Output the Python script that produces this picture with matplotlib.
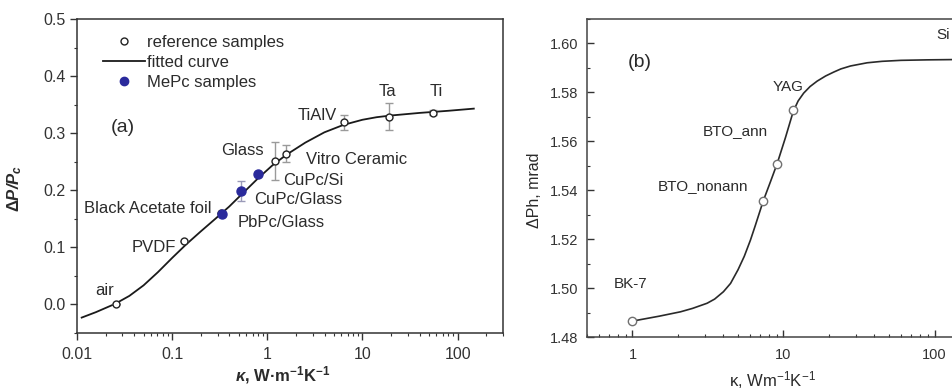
import numpy as np
import matplotlib
matplotlib.use("Agg")
import matplotlib.pyplot as plt
from matplotlib.lines import Line2D
from matplotlib.ticker import LogLocator, MultipleLocator, NullFormatter, FixedLocator, FixedFormatter

plt.rcParams['font.family'] = ['Liberation Sans', 'DejaVu Sans']
plt.rcParams['mathtext.fontset'] = 'custom'
plt.rcParams['mathtext.rm'] = 'Liberation Sans'
plt.rcParams['mathtext.it'] = 'Liberation Sans:italic'
plt.rcParams['mathtext.bf'] = 'Liberation Sans:bold'
plt.rcParams['mathtext.bfit'] = 'Liberation Sans:bold:italic'

# ---- panel (a): photoacoustic amplitude vs thermal conductivity ----
ref_names = ["air", "PVDF", "Black Acetate foil", "Glass", "Vitro Ceramic", "TiAlV", "Ta", "Ti"]
ref_kappa = [0.0257, 0.133, 0.33, 1.2, 1.58, 6.4, 18.9, 54.8]
ref_dp = [0.0, 0.112, 0.161, 0.251, 0.264, 0.319, 0.329, 0.336]
ref_err = [0.0, 0.0, 0.0, 0.033, 0.015, 0.013, 0.024, 0.004]

mepc_names = ["PbPc/Glass", "CuPc/Glass", "CuPc/Si"]
mepc_kappa = [0.338, 0.535, 0.8]
mepc_dp = [0.159, 0.199, 0.228]
mepc_err = [0.0, 0.017, 0.0]

fit_kappa = [0.0112, 0.0158, 0.0251, 0.0355, 0.0501, 0.0708, 0.1, 0.141, 0.2, 0.282,
             0.398, 0.562, 0.794, 1.12, 1.58, 2.51, 3.98, 6.31, 10.0, 14.1, 20.0, 39.8,
             79.4, 148.0]
fit_dp = [-0.023, -0.0135, 0.001, 0.015, 0.0335, 0.0565, 0.0815, 0.1055, 0.128, 0.1495,
          0.1715, 0.196, 0.2205, 0.243, 0.262, 0.2835, 0.3015, 0.3145, 0.3235, 0.328,
          0.331, 0.3355, 0.3392, 0.343]

# ---- panel (b): photothermal phase vs thermal conductivity ----
b_names = ["BK-7", "BTO_nonann", "BTO_ann", "YAG", "Si"]
b_kappa = [1.0, 7.34, 9.08, 11.6, 150.0]
b_phase = [1.4865, 1.5356, 1.5509, 1.5729, 1.5935]

b_fit_kappa = [1.0, 1.5, 2.08, 2.5, 3.12, 3.5, 4.0, 4.46, 5.0, 5.5, 6.04, 6.5, 7.34, 8.2,
               9.08, 10.3, 11.6, 12.5, 13.6, 15.0, 16.7, 19.0, 21.5, 24.0, 27.8, 35.8,
               45.0, 60.0, 90.0, 128.0, 200.0]
b_fit_phase = [1.4865, 1.4885, 1.4903, 1.4917, 1.4938, 1.4955, 1.4985, 1.5019, 1.5075,
               1.5130, 1.5196, 1.5255, 1.5356, 1.5435, 1.5509, 1.5615, 1.5722, 1.5765,
               1.5797, 1.5824, 1.5846, 1.5867, 1.5883, 1.5896, 1.5908, 1.5921, 1.5927,
               1.5931, 1.5933, 1.5934, 1.5935]

txt = "#2b2b2b"
blue = "#2a2a9c"

fig = plt.figure(figsize=(9.52, 3.91), dpi=100)
ax1 = fig.add_axes([77 / 952, 1 - 333 / 391, 426 / 952, 314 / 391])
ax2 = fig.add_axes([587 / 952, 1 - 337 / 391, 393 / 952, 318 / 391])

# left panel
ax1.plot(fit_kappa, fit_dp, color="#1a1a1a", lw=1.3, zorder=2)
ax1.errorbar(ref_kappa, ref_dp, yerr=ref_err, fmt="o", ms=5, mfc="white", mec="#222222",
             mew=1.0, ecolor="#9a9a9a", elinewidth=1.0, capsize=3, zorder=3)
ax1.errorbar(mepc_kappa, mepc_dp, yerr=mepc_err, fmt="o", ms=6.5, mfc=blue, mec=blue,
             ecolor="#9a9ab8", elinewidth=1.0, capsize=3, zorder=4)

ax1.set_xscale("log")
ax1.set_xlim(0.01, 300)
ax1.set_ylim(-0.05, 0.5)
ax1.xaxis.set_major_locator(FixedLocator([0.01, 0.1, 1, 10, 100]))
ax1.xaxis.set_major_formatter(FixedFormatter(["0.01", "0.1", "1", "10", "100"]))
ax1.xaxis.set_minor_locator(LogLocator(base=10, subs=np.arange(2, 10)))
ax1.xaxis.set_minor_formatter(NullFormatter())
ax1.yaxis.set_major_locator(MultipleLocator(0.1))
ax1.yaxis.set_minor_locator(MultipleLocator(0.05))
ax1.yaxis.set_major_formatter(plt.FuncFormatter(lambda v, p: f"{v:.1f}"))
ax1.tick_params(which="major", direction="out", length=5, width=1, labelsize=11.5,
                colors="#333333", pad=3)
ax1.tick_params(which="minor", direction="out", length=2.5, width=0.8, colors="#333333")
ax1.tick_params(axis="x", which="major", pad=5)
for s in ax1.spines.values():
    s.set_color("#333333")
    s.set_linewidth(1.1)

ax1.set_xlabel(r"$\mathbfit{\kappa}$, W·m$^{\mathbf{-1}}$K$^{\mathbf{-1}}$",
               fontsize=12, fontweight="bold", color=txt)
ax1.xaxis.set_label_coords(0.484, -0.10)
ax1.set_ylabel(r"$\mathbf{\Delta}\mathbfit{P/P}_{\mathbfit{c}}$", fontsize=12, color=txt)
ax1.yaxis.set_label_coords(-0.125, 0.46)

left_offsets = {"air": (-11, 14), "PVDF": (-30, -7), "Black Acetate foil": (-74, 4),
                "Glass": (-32, 11), "Vitro Ceramic": (70, -6), "TiAlV": (-27, 7),
                "Ta": (-1, 25), "Ti": (4, 21), "PbPc/Glass": (59, -9),
                "CuPc/Glass": (57, -9), "CuPc/Si": (55, -6)}
for name, k, v in zip(ref_names + mepc_names, ref_kappa + mepc_kappa, ref_dp + mepc_dp):
    dx, dy = left_offsets[name]
    ax1.annotate(name, (k, v), xytext=(dx, dy), textcoords="offset pixels",
                 ha="center", va="center", fontsize=12, color=txt)
ax1.text(0.0304, 0.31, "(a)", fontsize=14, color=txt, ha="center", va="center")

handles = [Line2D([], [], ls="none", marker="o", ms=5, mfc="white", mec="#222222"),
           Line2D([], [], color="#1a1a1a", lw=1.3),
           Line2D([], [], ls="none", marker="o", ms=6, mfc=blue, mec=blue)]
ax1.legend(handles, ["reference samples", "fitted curve", "MePc samples"], loc="upper left",
           bbox_to_anchor=(0.062, 0.948), frameon=False, fontsize=12, handlelength=2.5,
           handletextpad=0.1, labelspacing=0.3, borderpad=0, borderaxespad=0,
           labelcolor=txt)

# right panel
ax2.plot(b_fit_kappa, b_fit_phase, color="#2a2a2a", lw=1.2, zorder=2)
ax2.plot(b_kappa, b_phase, "o", ms=6, mfc="white", mec="#707070", mew=1.0, zorder=3)
ax2.set_xscale("log")
ax2.set_xlim(0.5, 200)
ax2.set_ylim(1.48, 1.61)
ax2.xaxis.set_major_locator(FixedLocator([1, 10, 100]))
ax2.xaxis.set_major_formatter(FixedFormatter(["1", "10", "100"]))
ax2.xaxis.set_minor_locator(LogLocator(base=10, subs=np.arange(2, 10)))
ax2.xaxis.set_minor_formatter(NullFormatter())
ax2.yaxis.set_major_locator(MultipleLocator(0.02))
ax2.yaxis.set_minor_locator(MultipleLocator(0.01))
ax2.yaxis.set_major_formatter(plt.FuncFormatter(lambda v, p: f"{v:.2f}"))
ax2.tick_params(which="major", direction="in", length=5, width=1, labelsize=10.5,
                colors="#333333", pad=6)
ax2.tick_params(which="minor", direction="in", length=2.5, width=0.8, colors="#333333")
ax2.tick_params(axis="x", which="major", pad=8)
for s in ax2.spines.values():
    s.set_color("#444444")
    s.set_linewidth(1.1)

ax2.set_xlabel(r"κ, Wm$^{-1}$K$^{-1}$", fontsize=12, color=txt)
ax2.xaxis.set_label_coords(0.473, -0.10)
ax2.set_ylabel("ΔPh, mrad", fontsize=11.5, color=txt)
ax2.yaxis.set_label_coords(-0.115, 0.46)

right_offsets = {"BK-7": (-2, 37), "BTO_nonann": (-60, 15), "BTO_ann": (-42, 33),
                 "YAG": (-5, 23), "Si": (-18, 24)}
for name, k, v in zip(b_names, b_kappa, b_phase):
    dx, dy = right_offsets[name]
    ax2.annotate(name, (k, v), xytext=(dx, dy), textcoords="offset pixels",
                 ha="center", va="center", fontsize=11, color=txt, annotation_clip=False)
ax2.text(1.12, 1.5924, "(b)", fontsize=14, color=txt, ha="center", va="center")

fig.savefig("out.png", dpi=100)
